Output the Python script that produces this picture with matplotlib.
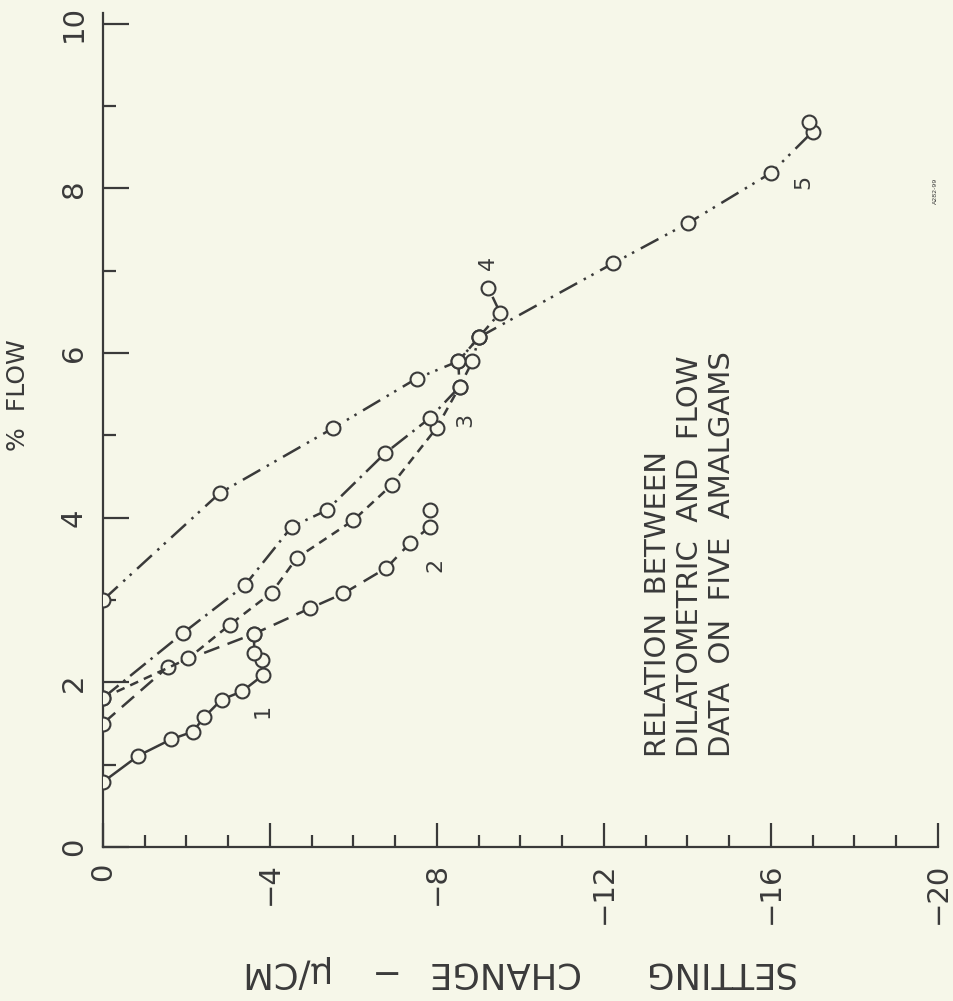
import numpy as np
import matplotlib
matplotlib.use("Agg")
import matplotlib.pyplot as plt
from matplotlib.ticker import MultipleLocator, FixedLocator

# setting change (micro/cm) and % flow
set1 = [0, -0.85, -1.64, -2.15, -2.43, -2.84, -3.33, -3.84, -3.82, -3.62, -3.62]
flow1 = [0.79, 1.11, 1.31, 1.40, 1.58, 1.79, 1.89, 2.09, 2.27, 2.36, 2.59]

set2 = [0, -1.56, -3.62, -4.96, -5.76, -6.79, -7.35, -7.83, -7.83]
flow2 = [1.50, 2.19, 2.59, 2.90, 3.08, 3.39, 3.69, 3.89, 4.09]

set3 = [0, -2.04, -3.04, -4.04, -4.64, -6.00, -6.92, -7.99, -8.54, -8.51, -9.00]
flow3 = [1.81, 2.29, 2.70, 3.09, 3.51, 3.97, 4.40, 5.09, 5.59, 5.90, 6.19]

set4 = [0, -1.92, -3.40, -4.52, -5.36, -6.75, -7.83, -8.54, -8.85, -9.00, -9.51, -9.23]
flow4 = [1.81, 2.60, 3.18, 3.89, 4.09, 4.78, 5.21, 5.59, 5.90, 6.19, 6.49, 6.79]

set5 = [0, -2.80, -5.52, -7.51, -8.51, -9.00, -12.22, -14.02, -16.01, -17.00, -16.90]
flow5 = [3.00, 4.30, 5.09, 5.69, 5.90, 6.19, 7.09, 7.58, 8.19, 8.69, 8.81]

curve_names = ["1", "2", "3", "4", "5"]
name_pos = [(-3.81, 1.65), (-7.95, 3.43), (-8.67, 5.19), (-9.22, 7.10), (-16.77, 8.08)]

xticks = [0, -4, -8, -12, -16, -20]
xtick_labels = ["0", "\u22124", "\u22128", "\u221212", "\u221216", "\u221220"]
yticks = [0, 2, 4, 6, 8, 10]
ytick_labels = ["0", "2", "4", "6", "8", "10"]

xlabel_words = ["SETTING", "CHANGE", "\u2212", "\u00b5/CM"]
xlabel_px = [718, 502, 380, 282]   # word centres along the bottom, pixels

note_lines = ["RELATION  BETWEEN", "DILATOMETRIC  AND  FLOW", "DATA  ON  FIVE  AMALGAMS"]

bg = "#f6f7e9"
ink = "#3a3a3a"

W, H = 954, 1001


def main():
    fig = plt.figure(figsize=(W / 100, H / 100), dpi=100, facecolor=bg)
    # axes placed in pixels: x 103..938, y 13..847
    ax = fig.add_axes([103 / W, (H - 847) / H, (938 - 103) / W, (847 - 13) / H])
    ax.set_facecolor(bg)

    styles = ["-", (0, (6.5, 3.5)), (0, (3.5, 2.5)), (0, (8, 2.5, 1, 2.5)),
              (0, (8, 3, 1, 2.5, 1, 3))]
    data = [(set1, flow1), (set2, flow2), (set3, flow3), (set4, flow4), (set5, flow5)]
    for (xs, ys), ls in zip(data, styles):
        ax.plot(xs, ys, color=ink, lw=1.8, ls=ls, marker="o", ms=10,
                mfc=bg, mec=ink, mew=1.5, zorder=3)

    ax.set_xlim(0, -20)
    ax.set_ylim(0, 10.13)

    for s in ["top", "right"]:
        ax.spines[s].set_visible(False)
    for s in ["left", "bottom"]:
        ax.spines[s].set_linewidth(1.6)
        ax.spines[s].set_color(ink)

    ax.xaxis.set_major_locator(FixedLocator(xticks))
    ax.xaxis.set_minor_locator(MultipleLocator(1))
    ax.yaxis.set_major_locator(FixedLocator(yticks))
    ax.yaxis.set_minor_locator(MultipleLocator(1))
    ax.set_xticklabels(xtick_labels, rotation=90)
    ax.set_yticklabels(ytick_labels, rotation=90, va="center")

    ax.tick_params(axis="x", which="major", direction="in", length=17, width=1.6,
                   color=ink, labelsize=21, labelcolor=ink, pad=11)
    ax.tick_params(axis="x", which="minor", direction="in", length=8.5, width=1.6, color=ink)
    ax.tick_params(axis="y", which="major", direction="in", length=19, width=1.6,
                   color=ink, labelsize=21, labelcolor=ink, pad=11)
    ax.tick_params(axis="y", which="minor", direction="in", length=9.5, width=1.6, color=ink)

    for name, (px, py) in zip(curve_names, name_pos):
        ax.text(px, py, name, rotation=90, ha="center", va="center",
                fontsize=16, color=ink)

    # note block, rotated like the rest of the sheet
    for i, line in enumerate(note_lines):
        fig.text((658 + 32 * i) / W, 1 - 757 / H, line, rotation=90,
                 rotation_mode="anchor", ha="left", va="center",
                 fontsize=21, color=ink)

    fig.text(18 / W, 1 - 395 / H, "%  FLOW", rotation=90, ha="center", va="center",
             fontsize=18, color=ink)
    for word, px in zip(xlabel_words, xlabel_px):
        fig.text(px / W, 1 - 972 / H, word, rotation=180,
                 ha="center", va="center", fontsize=25.5, color=ink)
    fig.text(935 / W, 1 - 191 / H, "A282-99", rotation=90, ha="center", va="center",
             fontsize=4.5, color=ink)

    fig.savefig("out.png", dpi=100, facecolor=bg)


main()
